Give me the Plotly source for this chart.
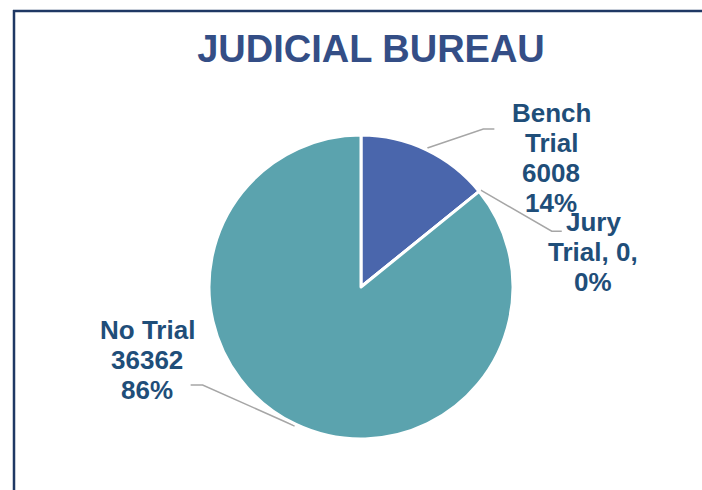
import math
import plotly.graph_objects as go

# ---- data ----
categories = ["Bench Trial", "Jury Trial", "No Trial"]
values = [6008, 0, 36362]
label_lines = [["Bench", "Trial", "{v}", "{p}%"],
               ["Jury", "Trial, {v},", "{p}%"],
               ["No Trial", "{v}", "{p}%"]]
colors = ["#4a66ac", "#5ba3ae", "#5ba3ae"]
title_text = "JUDICIAL BUREAU"

# ---- layout constants (pixels) ----
W, H = 702, 490
CX, CY, R = 361, 287, 152
label_pos = [(551, 158), (593, 252), (147, 360)]
LINE_H = 30
elbow_off = [(56, -19, 11), (71, 41, 10), (-92, -41, -12)]  # dx, dy, horizontal run
TEXT_COLOR = "#1f4e79"
LINE_COLOR = "#a6a6a6"
FONT = "Liberation Sans, Arial, sans-serif"

total = sum(values)
pcts = [round(100 * v / total) for v in values]

fig = go.Figure()
fig.add_trace(go.Pie(
    labels=categories, values=values, sort=False, direction="clockwise", rotation=0,
    marker=dict(colors=colors, line=dict(color="white", width=3)),
    textinfo="none", hoverinfo="label+value+percent", showlegend=False,
    domain=dict(x=[(CX - R) / W, (CX + R) / W], y=[1 - (CY + R) / H, 1 - (CY - R) / H]),
))

cum = 0
for i, (cat, v) in enumerate(zip(categories, values)):
    mid = 90 - 360 * (cum + v / 2) / total
    cum += v
    a = math.radians(mid)
    x0 = CX + (R + 2) * math.cos(a)
    y0 = CY - (R + 2) * math.sin(a)
    dx, dy, run = elbow_off[i]
    fig.add_trace(go.Scatter(
        x=[x0, x0 + dx, x0 + dx + run], y=[y0, y0 + dy, y0 + dy],
        mode="lines", line=dict(color=LINE_COLOR, width=1.5),
        hoverinfo="skip", showlegend=False, xaxis="x", yaxis="y"))
    lines = [s.format(v=v, p=pcts[i]) for s in label_lines[i]]
    n = len(lines)
    for k, s in enumerate(lines):
        fig.add_annotation(x=label_pos[i][0], y=label_pos[i][1] + (k - (n - 1) / 2) * LINE_H,
                           xref="x", yref="y", text=s, showarrow=False,
                           xanchor="center", yanchor="middle",
                           font=dict(family=FONT, size=26, color=TEXT_COLOR, weight="bold"))

fig.update_layout(
    width=W, height=H, margin=dict(l=0, r=0, t=0, b=0),
    paper_bgcolor="white", plot_bgcolor="rgba(0,0,0,0)",
    title=dict(text="<b>" + title_text + "</b>", x=371 / W, xanchor="center",
               y=1 - 49 / H, yanchor="middle",
               font=dict(family=FONT, size=38, color="#344e86")),
    xaxis=dict(range=[0, W], visible=False, fixedrange=True),
    yaxis=dict(range=[H, 0], visible=False, fixedrange=True),
    shapes=[
        dict(type="line", xref="paper", yref="paper", x0=13 / W, x1=1, y0=1 - 11 / H, y1=1 - 11 / H,
             line=dict(color="#1f3864", width=2.5)),
        dict(type="line", xref="paper", yref="paper", x0=14 / W, x1=14 / W, y0=1 - 10 / H, y1=0,
             line=dict(color="#1f3864", width=2.5)),
    ],
)

fig.write_html("out.html", config={"displayModeBar": False},
               post_script="document.body.style.margin='0';")
